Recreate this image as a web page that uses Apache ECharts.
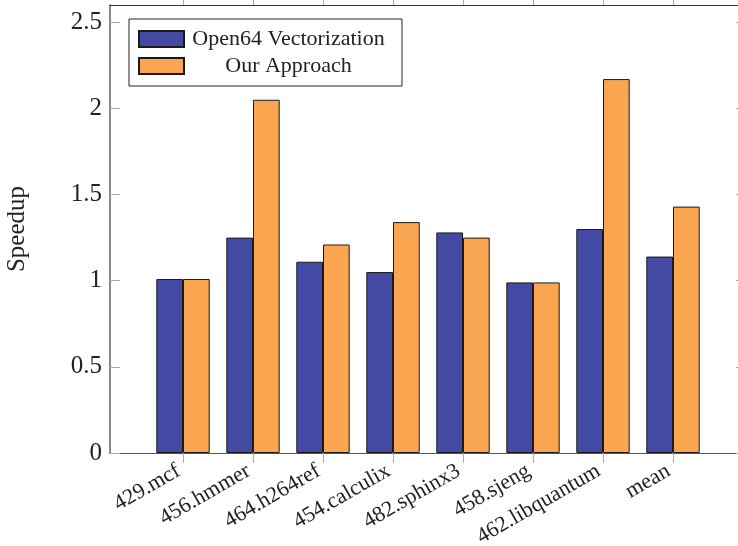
<!DOCTYPE html>
<html>
<head>
<meta charset="utf-8">
<script src="https://cdn.jsdelivr.net/npm/echarts@6/dist/echarts.min.js"></script>
<style>html,body{margin:0;padding:0;background:#fff}#c{width:738px;height:546px}</style>
</head>
<body>
<div id="c"></div>
<script>
var categories = ['429.mcf', '456.hmmer', '464.h264ref', '454.calculix', '482.sphinx3', '458.sjeng', '462.libquantum', 'mean'];
var open64Values = [1.01, 1.25, 1.11, 1.05, 1.28, 0.99, 1.30, 1.14];
var ourValues = [1.01, 2.05, 1.21, 1.34, 1.25, 0.99, 2.17, 1.43];
var yTicks = [0, 0.5, 1, 1.5, 2, 2.5];
var seriesNames = ['Open64 Vectorization', 'Our Approach'];

var catIdx = categories.map(function (c, i) { return i; });
var font = 'Liberation Serif';
var xMin = -73 / 70, xMax = categories.length - 1 + 73 / 70;

var chart = echarts.init(document.getElementById('c'));
chart.setOption({
  animation: false,
  backgroundColor: '#fff',
  grid: { left: 110, top: 5, bottom: 93, right: -8, containLabel: false, outerBoundsMode: 'none' },
  legend: {
    left: 129, top: 19,
    orient: 'vertical',
    padding: [9, 14, 9, 9],
    itemWidth: 45, itemHeight: 16, itemGap: 5,
    borderColor: '#222', borderWidth: 1,
    backgroundColor: '#fff',
    icon: 'rect',
    formatter: '{a|{name}}',
    textStyle: {
      fontFamily: font, fontSize: 22, color: '#222',
      rich: { a: { fontFamily: font, fontSize: 22, width: 199, align: 'center', lineHeight: 18, color: '#222' } }
    },
    data: seriesNames
  },
  xAxis: [{
    type: 'value', min: xMin, max: xMax, position: 'bottom',
    splitLine: { show: false },
    axisLine: { show: true, onZero: false, lineStyle: { color: '#555', width: 1.2 } },
    axisTick: { show: true, inside: false, length: 10, customValues: catIdx, lineStyle: { color: '#aaa', width: 1 } },
    axisLabel: {
      customValues: catIdx, rotate: 30, margin: 14,
      fontFamily: font, fontSize: 22, color: '#222',
      formatter: function (v) { return '{a|' + (categories[Math.round(v)] || '') + '}'; },
      rich: { a: { fontFamily: font, fontSize: 22, color: '#222', padding: [0, 5, 0, 0] } }
    }
  }, {
    type: 'value', min: xMin, max: xMax, position: 'top',
    splitLine: { show: false },
    axisLine: { show: true, onZero: false, lineStyle: { color: '#333', width: 1.2 } },
    axisTick: { show: true, inside: false, length: 10, customValues: catIdx, lineStyle: { color: '#aaa', width: 1 } },
    axisLabel: { show: false }
  }],
  yAxis: [{
    type: 'value', min: 0, max: 2.6, position: 'left',
    name: 'Speedup', nameLocation: 'middle', nameGap: 80, nameRotate: 90,
    nameTextStyle: { fontFamily: font, fontSize: 25, color: '#222' },
    splitLine: { show: false },
    axisLine: { show: true, onZero: false, lineStyle: { color: '#666', width: 1.5 } },
    axisTick: { show: true, inside: true, length: 10, customValues: yTicks, lineStyle: { color: '#aaa', width: 1 } },
    axisLabel: { customValues: yTicks, margin: 8, fontFamily: font, fontSize: 25, color: '#222' }
  }, {
    type: 'value', min: 0, max: 2.6, position: 'right',
    splitLine: { show: false },
    axisLine: { show: true, onZero: false, lineStyle: { color: '#333', width: 1.2 } },
    axisTick: { show: true, inside: true, length: 10, customValues: yTicks, lineStyle: { color: '#aaa', width: 1 } },
    axisLabel: { show: false }
  }],
  series: [{
    name: seriesNames[0], type: 'bar', xAxisIndex: 0, yAxisIndex: 0,
    barWidth: 26.7, barGap: '0%',
    itemStyle: { color: '#434AA3', borderColor: '#1a1a1a', borderWidth: 1 },
    data: open64Values.map(function (v, i) { return [i, v]; })
  }, {
    name: seriesNames[1], type: 'bar', xAxisIndex: 0, yAxisIndex: 0,
    barWidth: 26.7, barGap: '0%',
    itemStyle: { color: '#FAA650', borderColor: '#1a1a1a', borderWidth: 1 },
    data: ourValues.map(function (v, i) { return [i, v]; })
  }]
});
</script>
</body>
</html>
